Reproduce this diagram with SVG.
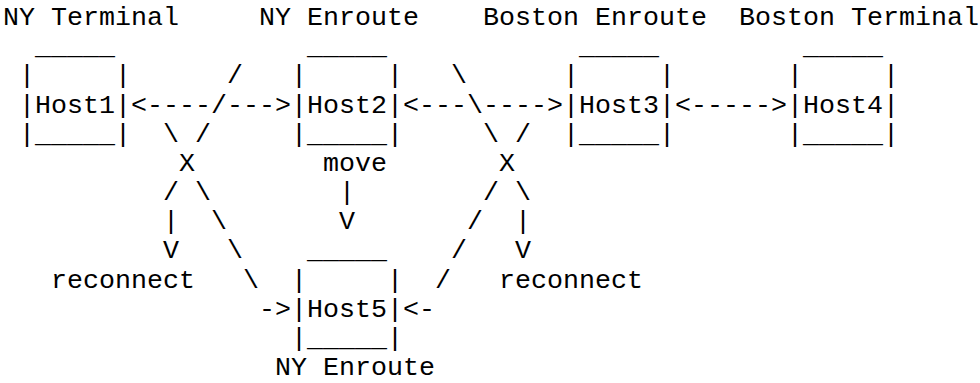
<svg xmlns="http://www.w3.org/2000/svg" width="980" height="383" viewBox="0 0 980 383" xml:space="preserve">
<style>
text{font-family:"Liberation Mono","Courier New",monospace;font-size:26.667px;fill:#000;white-space:pre}
</style>
<rect width="980" height="383" fill="#fff"/>
<g id="host1">
<text x="3" y="25">NY Terminal</text>
<text x="35" y="54.2">_____</text>
<text x="19" y="83.3">|     |</text>
<text x="19" y="112.5">|Host1|</text>
<text x="19" y="141.7">|_____|</text>
</g>
<g id="host2">
<text x="259" y="25">NY Enroute</text>
<text x="307" y="54.2">_____</text>
<text x="291" y="83.3">|     |</text>
<text x="291" y="112.5">|Host2|</text>
<text x="291" y="141.7">|_____|</text>
</g>
<g id="host3">
<text x="483" y="25">Boston Enroute</text>
<text x="579" y="54.2">_____</text>
<text x="563" y="83.3">|     |</text>
<text x="563" y="112.5">|Host3|</text>
<text x="563" y="141.7">|_____|</text>
</g>
<g id="host4">
<text x="739" y="25">Boston Terminal</text>
<text x="803" y="54.2">_____</text>
<text x="787" y="83.3">|     |</text>
<text x="787" y="112.5">|Host4|</text>
<text x="787" y="141.7">|_____|</text>
</g>
<g id="host5">
<text x="307" y="258.4">_____</text>
<text x="291" y="287.5">|     |</text>
<text x="291" y="316.7">|Host5|</text>
<text x="291" y="345.9">|_____|</text>
<text x="275" y="375">NY Enroute</text>
</g>
<g id="connectors">
<text x="227" y="83.3">/</text>
<text x="451" y="83.3">\</text>
<text x="131" y="112.5">&lt;----/---&gt;</text>
<text x="403" y="112.5">&lt;---\----&gt;</text>
<text x="675" y="112.5">&lt;-----&gt;</text>
<text x="163" y="141.7">\ /</text>
<text x="483" y="141.7">\ /</text>
<text x="179" y="170.8">X</text>
<text x="323" y="170.8">move</text>
<text x="499" y="170.8">X</text>
<text x="163" y="200">/ \</text>
<text x="339" y="200">|</text>
<text x="483" y="200">/ \</text>
<text x="163" y="229.2">|</text>
<text x="211" y="229.2">\</text>
<text x="339" y="229.2">V</text>
<text x="467" y="229.2">/</text>
<text x="515" y="229.2">|</text>
<text x="163" y="258.4">V</text>
<text x="227" y="258.4">\</text>
<text x="451" y="258.4">/</text>
<text x="515" y="258.4">V</text>
<text x="51" y="287.5">reconnect</text>
<text x="243" y="287.5">\</text>
<text x="435" y="287.5">/</text>
<text x="499" y="287.5">reconnect</text>
<text x="259" y="316.7">-&gt;</text>
<text x="403" y="316.7">&lt;-</text>
</g>
</svg>
